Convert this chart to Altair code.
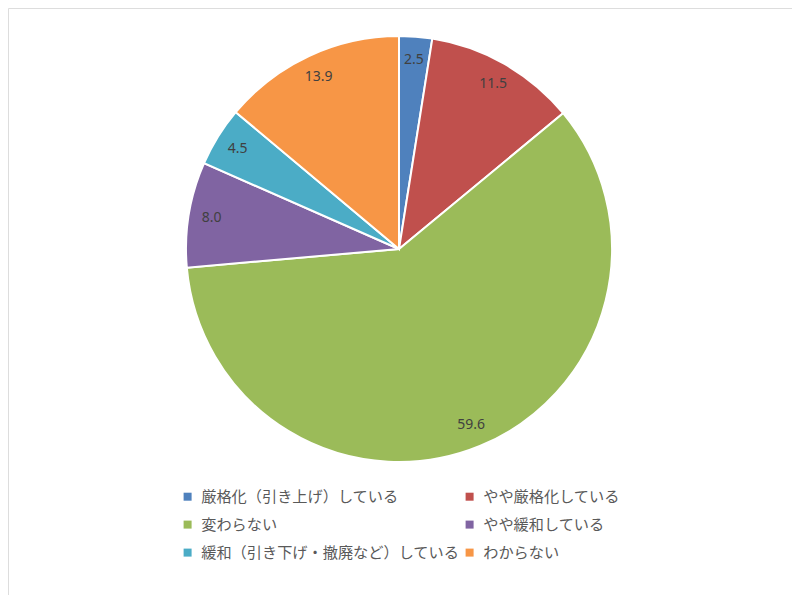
import altair as alt
import pandas as pd

categories = ["厳格化（引き上げ）している", "やや厳格化している", "変わらない",
              "やや緩和している", "緩和（引き下げ・撤廃など）している", "わからない"]
values = [2.5, 11.5, 59.6, 8.0, 4.5, 13.9]
colors = ["#4F81BD", "#C0504D", "#9BBB59", "#8064A2", "#4BACC6", "#F79646"]

df = pd.DataFrame({
    "cat": categories,
    "val": values,
    "order": list(range(len(categories))),
    "label": [f"{v:.1f}" for v in values],
})

cx, cy = 391, 241

base = alt.Chart(df).encode(
    theta=alt.Theta("val:Q", stack=True),
    order=alt.Order("order:Q"),
)

pie = base.mark_arc(radius=213, stroke="white", strokeWidth=2).encode(
    x=alt.value(cx), y=alt.value(cy),
    color=alt.Color(
        "cat:N",
        sort=categories,
        scale=alt.Scale(domain=categories, range=colors),
        legend=alt.Legend(
            title=None, orient="none", legendX=172, legendY=481,
            columns=2, direction="horizontal",
            symbolType="square", symbolSize=64, symbolStrokeWidth=0,
            labelFont="Noto Sans CJK JP", labelFontSize=15.2, labelColor="#595959",
            labelLimit=500, rowPadding=12, columnPadding=2, symbolOffset=0,
            labelOffset=6,
        ),
    ),
)

labels = base.mark_text(radius=190, font="Noto Sans", fontSize=14, color="#404040").encode(
    x=alt.value(cx), y=alt.value(cy),
    text="label:N",
)

chart = (pie + labels).properties(
    width=784, height=587,
    autosize=alt.AutoSizeParams(type="none"),
    padding=0,
).configure_view(stroke=None).configure(background="white")

chart.save("out.html", embed_options={"renderer": "svg", "actions": False})
